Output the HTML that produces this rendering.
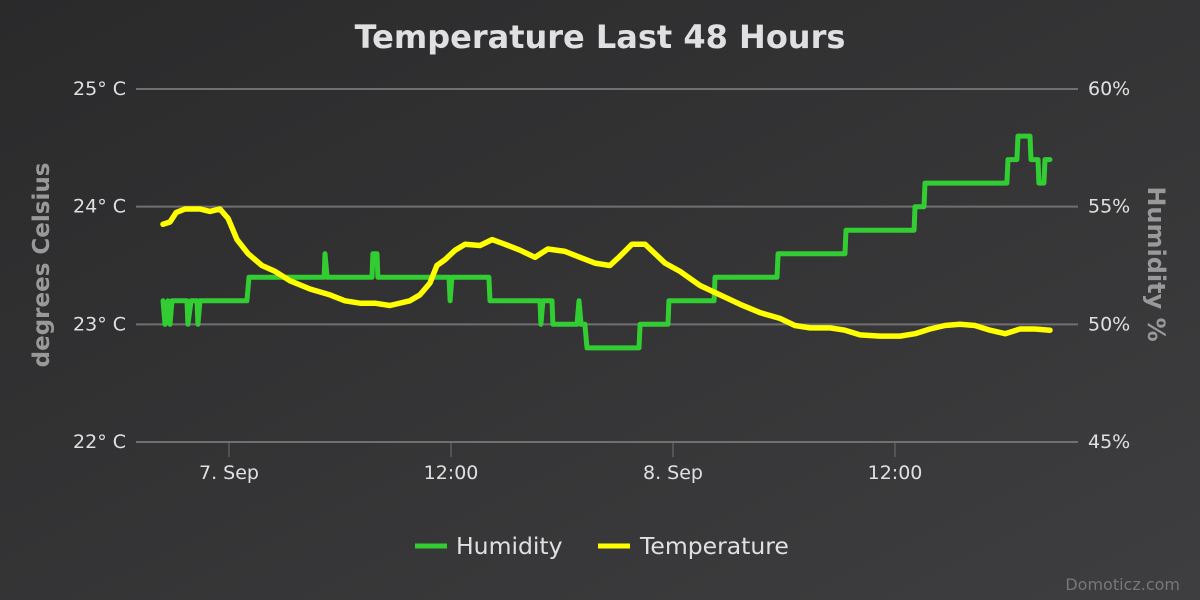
<!DOCTYPE html>
<html><head><meta charset="utf-8"><style>
html,body{margin:0;padding:0;width:1200px;height:600px;overflow:hidden}
svg{display:block;font-family:"DejaVu Sans","Liberation Sans",sans-serif}
</style></head><body>
<svg id="chart" width="1200" height="600">
<defs><linearGradient id="bg" x1="0" y1="0" x2="1" y2="1"><stop offset="0" stop-color="#2a2a2b"/><stop offset="1" stop-color="#3e3e40"/></linearGradient></defs>
<rect width="1200" height="600" fill="url(#bg)"/>
<text x="600" y="48" text-anchor="middle" fill="#e0e0e3" font-size="32" font-weight="bold">Temperature Last 48 Hours</text>
<g id="grid"></g><g id="axes"></g><g id="series"></g>
<text transform="translate(49,265) rotate(-90)" text-anchor="middle" fill="#999" font-size="23" font-weight="bold">degrees Celsius</text>
<text transform="translate(1148,264) rotate(90)" text-anchor="middle" fill="#999" font-size="24" font-weight="bold">Humidity %</text>
<g><line x1="415" y1="546" x2="447" y2="546" stroke="#32cd32" stroke-width="5"/><text x="456" y="554" fill="#e0e0e3" font-size="23.5">Humidity</text></g>
<g><line x1="598" y1="546" x2="630" y2="546" stroke="#ffff00" stroke-width="5"/><text x="640" y="554" fill="#e0e0e3" font-size="23.5">Temperature</text></g>
<text x="1180" y="590" text-anchor="end" fill="#777" font-size="16">Domoticz.com</text>
</svg>
<script>
const tempTicks=[22,23,24,25];
const humTicks=[45,50,55,60];
const xTicks=[0,12,24,36];
const xTickLabels=["7. Sep","12:00","8. Sep","12:00"];
const humTimes=[-3.57,-3.46,-3.30,-3.19,-3.08,-2.27,-2.22,-2.05,-1.73,-1.68,-1.57,0.97,1.08,5.14,5.19,5.30,7.73,7.78,8.0,8.05,11.89,11.95,12.05,14.05,14.11,16.81,16.86,16.97,17.46,17.51,18.81,18.92,19.03,19.24,19.35,22.16,22.22,23.73,23.78,26.22,26.27,29.62,29.68,33.3,33.35,37.03,37.08,37.57,37.62,42.05,42.11,42.59,42.65,43.3,43.35,43.73,43.78,44.05,44.11,44.38];
const humValues=[51,50,51,50,51,51,50,51,51,50,51,51,52,52,53,52,52,53,53,52,52,51,52,52,51,51,50,51,51,50,50,51,50,50,49,49,50,50,51,51,52,52,53,53,54,54,55,55,56,56,57,57,58,58,57,57,56,56,57,57];
const tempTimes=[-3.57,-3.19,-2.86,-2.38,-1.57,-1.03,-0.49,-0.05,0.43,1.03,1.78,2.49,3.30,4.38,5.46,6.27,7.08,7.89,8.70,9.78,10.32,10.86,11.24,11.68,12.22,12.76,13.57,14.22,14.92,15.73,16.54,17.24,18.16,18.97,19.78,20.59,21.14,21.78,22.49,23.03,23.57,24.38,25.46,26.54,27.62,28.70,29.78,30.59,31.41,32.49,33.30,34.11,35.19,36.27,37.08,37.89,38.70,39.51,40.32,41.14,41.95,42.76,43.57,44.38];
const tempValues=[23.85,23.87,23.95,23.98,23.98,23.96,23.98,23.9,23.72,23.6,23.5,23.45,23.37,23.3,23.25,23.2,23.18,23.18,23.16,23.2,23.25,23.35,23.5,23.55,23.63,23.68,23.67,23.72,23.68,23.63,23.57,23.64,23.62,23.57,23.52,23.5,23.58,23.68,23.68,23.6,23.52,23.45,23.33,23.25,23.17,23.1,23.05,22.99,22.97,22.97,22.95,22.91,22.9,22.9,22.92,22.96,22.99,23.0,22.99,22.95,22.92,22.96,22.96,22.95];
const NS="http://www.w3.org/2000/svg";
const X0=136,X1=1078,Y0=89,Y1=442;
const xs=h=>229+h*18.5;
const yT=v=>Y1-(v-22)/3*(Y1-Y0);
const yH=v=>Y1-(v-45)/15*(Y1-Y0);
function mk(tag,attrs,parent){const e=document.createElementNS(NS,tag);for(const k in attrs)e.setAttribute(k,attrs[k]);parent.appendChild(e);return e;}
const grid=document.getElementById('grid'),axes=document.getElementById('axes'),ser=document.getElementById('series');
tempTicks.forEach((t,i)=>{
 const y=yT(t);
 const l=mk('line',{x1:X0,x2:X1,y1:y,y2:y,stroke:'#707073','stroke-width':2},grid);
 
 
 const a=mk('text',{x:126,y:y+6,'text-anchor':'end',fill:'#e0e0e3','font-size':19},axes);
 a.textContent=t+'° C';
 
 
 const b=mk('text',{x:1088,y:y+6,fill:'#e0e0e3','font-size':19},axes);
 b.textContent=humTicks[i]+'%';
 
 
});
xTicks.forEach((h,i)=>{
 const x=xs(h);
 const l=mk('line',{x1:x,x2:x,y1:Y1,y2:Y1+15,stroke:'#707073','stroke-width':1},axes);
 
 
 const t=mk('text',{x:x,y:479,'text-anchor':'middle',fill:'#e0e0e3','font-size':19},axes);
 t.textContent=xTickLabels[i];
 
 
});
const hp=mk('path',{d:humTimes.map((h,i)=>(i?'L':'M')+xs(h).toFixed(1)+','+yH(humValues[i]).toFixed(1)).join(''),fill:'none',stroke:'#32cd32','stroke-width':5,'stroke-linejoin':'round','stroke-linecap':'round'},ser);


const tp=mk('path',{d:tempTimes.map((h,i)=>(i?'L':'M')+xs(h).toFixed(1)+','+yT(tempValues[i]).toFixed(1)).join(''),fill:'none',stroke:'#ffff00','stroke-width':5.5,'stroke-linejoin':'round','stroke-linecap':'round'},ser);


</script>
</body></html>
